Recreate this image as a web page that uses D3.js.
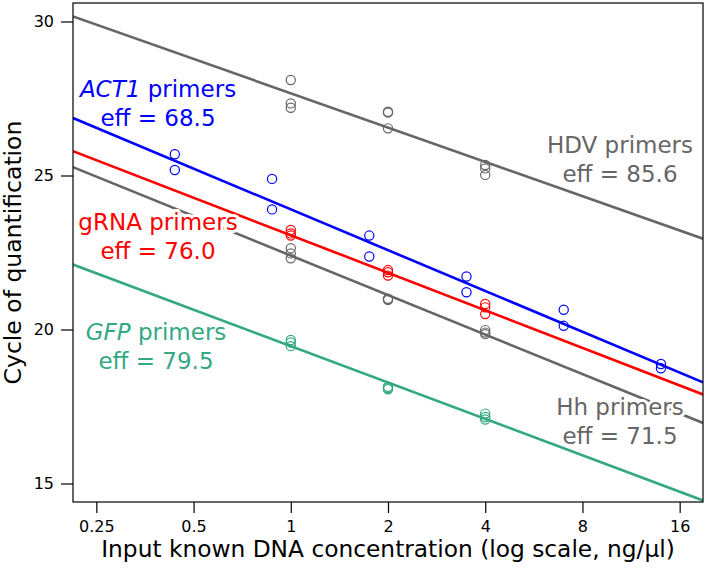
<!DOCTYPE html>
<html>
<head>
<meta charset="utf-8">
<script src="https://cdn.jsdelivr.net/npm/d3@7"></script>
<style>
  body { margin: 0; background: #fff; }
  svg { display: block; font-family: "DejaVu Sans", sans-serif; }
</style>
</head>
<body>
<svg id="chart" width="706" height="569"></svg>
<script>
// tick values
const xTicks = [0.25, 0.5, 1, 2, 4, 8, 16];
const yTicks = [15, 20, 25, 30];

// ACT1 (two replicates per dilution)
const act1Conc = [0.4375, 0.4375, 0.875, 0.875, 1.75, 1.75, 3.5, 3.5, 7, 7, 14, 14];
const act1Ct   = [25.69, 25.18, 24.89, 23.90, 23.05, 22.37, 21.72, 21.21, 20.64, 20.12, 18.88, 18.74];

// three replicates at 1, 2, 4 ng/ul
const tripleConc = [1, 1, 1, 2, 2, 2, 4, 4, 4];
const hdvCt  = [28.10, 27.34, 27.20, 27.07, 27.04, 26.53, 25.34, 25.23, 25.02];
const grnaCt = [23.23, 23.12, 23.05, 21.93, 21.86, 21.75, 20.83, 20.72, 20.50];
const hhCt   = [22.64, 22.47, 22.31, 21.00, 20.98, 20.96, 19.98, 19.90, 19.85];
const gfpCt  = [19.66, 19.58, 19.46, 18.14, 18.10, 18.06, 17.27, 17.16, 17.08];

// fitted lines: Ct at 1 ng/ul and change per doubling
const seriesNames = ["HDV", "ACT1", "gRNA", "Hh", "GFP"];
const fitAt1      = [27.67, 23.90, 23.06, 22.40, 19.46];
const fitSlope    = [-1.114, -1.324, -1.219, -1.282, -1.182];
const efficiency  = ["85.6", "68.5", "76.0", "71.5", "79.5"];
const colors      = ["#666666", "#0000ff", "#ff0000", "#666666", "#33a882"];

const series = [
  {conc: tripleConc, ct: hdvCt},
  {conc: act1Conc, ct: act1Ct},
  {conc: tripleConc, ct: grnaCt},
  {conc: tripleConc, ct: hhCt},
  {conc: tripleConc, ct: gfpCt}
];

const margin = {left: 73, right: 3, top: 3, bottom: 67};
const W = 706, H = 569;
const svg = d3.select("#chart");

const xExt = Math.pow(2, 0.24);
const x = d3.scaleLog().base(2)
  .domain([0.25 / xExt, 16 * xExt])
  .range([margin.left, W - margin.right]);
const y = d3.scaleLinear()
  .domain([14.4, 30.6])
  .range([H - margin.bottom, margin.top]);

svg.append("defs").append("clipPath").attr("id", "plotclip")
  .append("rect")
  .attr("x", margin.left).attr("y", margin.top)
  .attr("width", W - margin.left - margin.right)
  .attr("height", H - margin.top - margin.bottom);

// regression lines
const plot = svg.append("g").attr("clip-path", "url(#plotclip)");
const [x0, x1] = x.domain();
plot.selectAll(".fit")
  .data(seriesNames)
  .enter().append("line")
  .attr("class", "fit")
  .attr("x1", x(x0))
  .attr("x2", x(x1))
  .attr("y1", (d, i) => y(fitAt1[i] + fitSlope[i] * Math.log2(x0)))
  .attr("y2", (d, i) => y(fitAt1[i] + fitSlope[i] * Math.log2(x1)))
  .attr("stroke", (d, i) => colors[i])
  .attr("stroke-width", 2.6);

// points
series.forEach((s, i) => {
  plot.append("g").selectAll("circle")
    .data(s.ct)
    .enter().append("circle")
    .attr("cx", (d, j) => x(s.conc[j]))
    .attr("cy", d => y(d))
    .attr("r", 4.6)
    .attr("fill", "none")
    .attr("stroke", colors[i])
    .attr("stroke-width", 1.2);
});

// series labels (centre x in px, baseline of first line), white halo behind glyphs
const labelX   = [620, 158, 158, 620, 156];
const labelY   = [153, 97, 230, 415, 340];
const italicNm = [false, true, false, false, true];
const labels = svg.append("g").attr("clip-path", "url(#plotclip)");
seriesNames.forEach((nm, i) => {
  const t1 = labels.append("text")
    .attr("x", labelX[i]).attr("y", labelY[i]);
  t1.append("tspan").style("font-style", italicNm[i] ? "italic" : "normal").text(nm);
  t1.append("tspan").text(" primers");
  const t2 = labels.append("text")
    .attr("x", labelX[i]).attr("y", labelY[i] + 29)
    .text("eff = " + efficiency[i]);
  [t1, t2].forEach(t => t
    .attr("text-anchor", "middle")
    .attr("fill", colors[i])
    .attr("stroke", "#fff")
    .attr("stroke-width", 6)
    .attr("stroke-linejoin", "round")
    .attr("paint-order", "stroke")
    .style("font-size", "23px"));
});

// frame
svg.append("rect")
  .attr("x", margin.left).attr("y", margin.top)
  .attr("width", W - margin.left - margin.right)
  .attr("height", H - margin.top - margin.bottom)
  .attr("fill", "none").attr("stroke", "#000").attr("stroke-width", 1.2);

// axes
const xAxis = svg.append("g")
  .attr("transform", "translate(0," + (H - margin.bottom) + ")")
  .call(d3.axisBottom(x).tickValues(xTicks).tickFormat(d3.format("")).tickSize(11).tickPadding(8));
const yAxis = svg.append("g")
  .attr("transform", "translate(" + margin.left + ",0)")
  .call(d3.axisLeft(y).tickValues(yTicks).tickSize(12).tickPadding(7));
[xAxis, yAxis].forEach(a => {
  a.select(".domain").remove();
  a.selectAll("line").attr("stroke", "#000").attr("stroke-width", 1.2);
  a.selectAll("text").attr("fill", "#000").style("font-size", "16px")
    .style("font-family", "DejaVu Sans, sans-serif");
});

// axis titles
svg.append("text")
  .attr("x", (margin.left + W - margin.right) / 2)
  .attr("y", 557)
  .attr("text-anchor", "middle")
  .style("font-size", "23.3px")
  .text("Input known DNA concentration (log scale, ng/µl)");
svg.append("text")
  .attr("transform", "translate(21," + ((margin.top + H - margin.bottom) / 2) + ") rotate(-90)")
  .attr("text-anchor", "middle")
  .style("font-size", "23.5px")
  .text("Cycle of quantification");
</script>
</body>
</html>
